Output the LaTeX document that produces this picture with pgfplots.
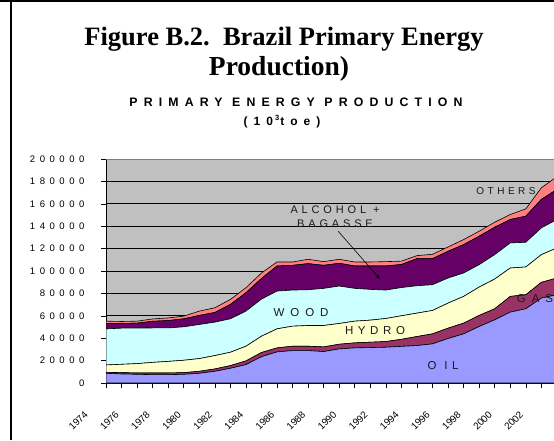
\documentclass[border=0pt]{standalone}
\usepackage{pgfplots}
\pgfplotsset{compat=1.18}
\usepackage{pgfplotstable}
\usetikzlibrary{arrows.meta}
\usepackage{fontspec}
\setmainfont{Liberation Serif}
\newfontfamily\subf[LetterSpace=50]{Liberation Sans}
\newfontfamily\tickf[LetterSpace=48]{Liberation Sans}
\newfontfamily\yearf{Liberation Sans}
\newfontfamily\labf[LetterSpace=52]{Liberation Sans}
\newfontfamily\labs[LetterSpace=40]{Liberation Sans}
\newfontfamily\labt[LetterSpace=35]{Liberation Sans}
\newcommand{\yl}[1]{\rotatebox{45}{#1}}
\definecolor{bggray}{HTML}{C0C0C0}
\definecolor{coil}{HTML}{9999FF}
\definecolor{cgas}{HTML}{993366}
\definecolor{chydro}{HTML}{FFFFCC}
\definecolor{cwood}{HTML}{CCFFFF}
\definecolor{calc}{HTML}{660066}
\definecolor{coth}{HTML}{FF8080}
\definecolor{labcol}{HTML}{1A1A1A}
\pgfplotstableread{
year oil gas hydro wood alc oth
1974 8660 890 6570 32240 4770 2090
1975 8060 1190 7450 32250 4180 1790
1976 7760 1200 8350 31640 4480 1790
1977 7460 1500 9450 30750 5970 2070
1978 7460 1500 10340 29860 6560 2380
1979 7760 1490 11050 29850 7150 2400
1980 8660 1790 11350 30440 8060 3880
1981 10450 2090 11940 29850 8650 4180
1982 13130 2390 11940 29850 12840 4480
1983 16420 3280 13140 31340 16420 4470
1984 23500 3700 14590 33110 18400 4900
1985 27760 3580 17020 33730 22390 3580
1986 28950 3890 17910 32230 22090 2990
1987 28950 3890 18500 31940 23280 3890
1988 28060 4180 19100 33140 20590 3290
1989 30450 4180 18500 33440 20290 3590
1990 31340 4480 19400 29260 20000 3580
1991 31640 4780 19700 27460 20900 3580
1992 31940 5070 20600 25370 21500 3880
1993 32700 6300 21000 25200 20600 3000
1994 33430 8060 20900 24470 24180 2690
1995 34920 8960 20890 22990 23280 3880
1996 39700 9250 22390 22390 23880 3880
1997 43880 9550 23880 20900 25370 4480
1998 50450 9850 25370 20000 25370 4480
1999 56420 9850 26560 21790 24480 4480
2000 63280 14030 25370 22390 20900 4470
2001 66270 12530 24780 22090 23280 6570
2002 75820 14030 24770 23880 25380 10440
2003 78800 14930 26860 25380 26860 11340
}\datatable
\begin{document}
\begin{tikzpicture}[x=1pt,y=1pt]
\path[use as bounding box] (0,0) rectangle (554,440);
\fill[white] (0,0) rectangle (554,440);
\begin{axis}[
  at={(106pt,57pt)}, anchor=south west,
  width=447.8pt, height=224pt, scale only axis,
  xmin=1974, xmax=2002.8, ymin=0, ymax=200000,
  stack plots=y,
  axis background/.style={fill=bggray},
  axis x line*=bottom, axis y line*=left,
  axis line style={black, line width=0.6pt},
  ytick={0,20000,...,200000},
  yticklabels={0,20000,40000,60000,80000,100000,120000,140000,160000,180000,200000},
  scaled y ticks=false,
  ymajorgrids, major grid style={black, line width=0.7pt},
  xtick={1974,1976,...,2002},
  xticklabels={\yl{1974},\yl{1976},\yl{1978},\yl{1980},\yl{1982},\yl{1984},\yl{1986},\yl{1988},\yl{1990},\yl{1992},\yl{1994},\yl{1996},\yl{1998},\yl{2000},\yl{2002}},
  minor xtick={1975,1977,...,2003},
  tick align=outside, major tick length=5pt, minor tick length=5pt,
  tick style={black, line width=0.6pt},
  yticklabel style={font=\tickf\fontsize{9.5}{9.5}\selectfont, xshift=-13pt},
  xticklabel style={font=\yearf\fontsize{9.8}{9.8}\selectfont, anchor=north east, xshift=-14pt, yshift=-19pt},
  every axis plot/.append style={draw=black, line width=0.6pt},
]
\addplot[fill=coil] table[x=year,y=oil]{\datatable} \closedcycle;
\addplot[fill=cgas] table[x=year,y=gas]{\datatable} \closedcycle;
\addplot[fill=chydro] table[x=year,y=hydro]{\datatable} \closedcycle;
\addplot[fill=cwood] table[x=year,y=wood]{\datatable} \closedcycle;
\addplot[fill=calc] table[x=year,y=alc]{\datatable} \closedcycle;
\addplot[fill=coth] table[x=year,y=oth]{\datatable} \closedcycle;
\end{axis}
\draw[gray, line width=0.8pt] (106,281) -- (554,281);
% frame
\draw[black, line width=2.2pt] (0,439) -- (554,439);
\draw[black, line width=2.2pt] (11,0) -- (11,440);
% titles
\node[anchor=base, font=\bfseries\fontsize{26.5}{26.5}\selectfont] at (284,394) {Figure B.2.\ \ Brazil Primary Energy};
\node[anchor=base, font=\bfseries\fontsize{27.5}{27.5}\selectfont] at (279,364) {Production)};
\node[anchor=base, font=\subf\bfseries\fontsize{12.3}{12.3}\selectfont] at (296,333) {PRIMARY ENERGY PRODUCTION};
\node[anchor=base, font=\subf\bfseries\fontsize{12}{12}\selectfont] at (282,315) {(10\hspace{2pt}\raisebox{0.65ex}{\fontsize{7.5}{7.5}\selectfont 3}\hspace{1pt}toe)};
% area labels
\begin{scope}[every node/.style={text=labcol}]
\node[font=\labt\fontsize{10}{10}\selectfont] at (506,249) {OTHERS};
\node[font=\labt\fontsize{11}{11}\selectfont] at (335,230) {ALCOHOL +};
\node[font=\labt\fontsize{11}{11}\selectfont] at (335,216) {BAGASSE};
\node[font=\labf\fontsize{11.5}{11.5}\selectfont] at (301,127) {WOOD};
\node[font=\labs\fontsize{11.5}{11.5}\selectfont] at (375,109) {HYDRO};
\node[font=\labf\fontsize{11.5}{11.5}\selectfont] at (535,141) {GAS};
\node[font=\labs\fontsize{11.5}{11.5}\selectfont] at (443,74) {O IL};
\end{scope}
\draw[black, line width=0.6pt, -{Stealth[length=5pt,width=4pt]}] (338,209) -- (380,161);
\end{tikzpicture}
\end{document}
